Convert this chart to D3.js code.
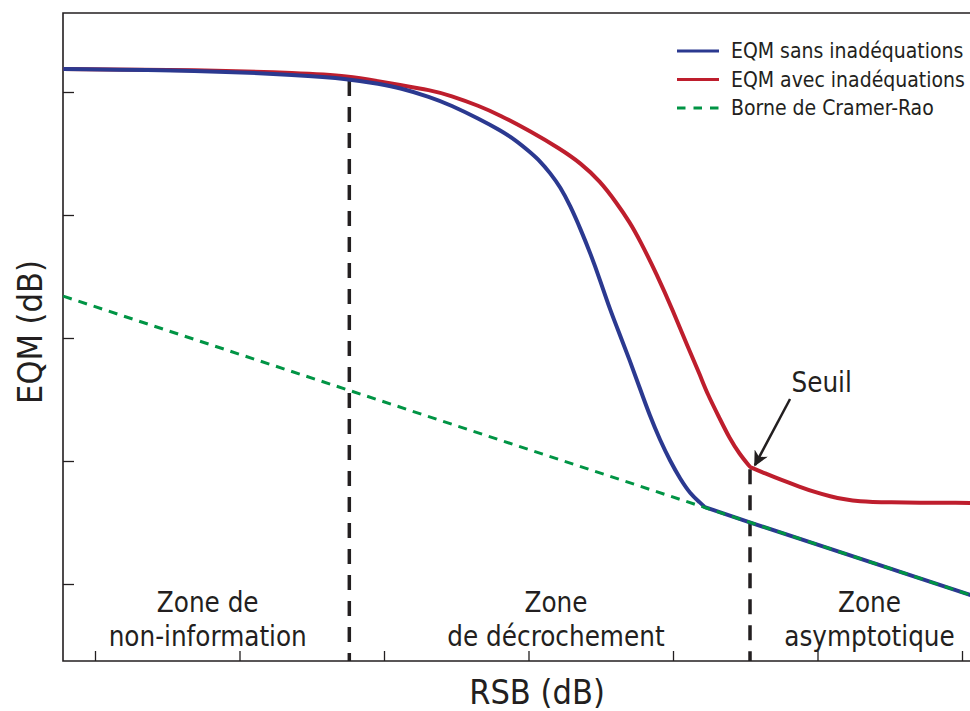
<!DOCTYPE html>
<html>
<head>
<meta charset="utf-8">
<script src="https://cdn.jsdelivr.net/npm/d3@7"></script>
<style>
  html, body { margin: 0; padding: 0; background: #fff; }
  svg { display: block; }
  text { font-family: "DejaVu Sans Condensed", "DejaVu Sans", sans-serif; font-stretch: condensed; fill: #231f20; }
</style>
</head>
<body>
<svg id="chart" width="970" height="711"></svg>
<script>
// ---- Data (RSB in dB on x, EQM in dB on y; axes carry no labels) ----
const xTicks = [-30, -20, -10, 0, 10, 20, 30];
const yTicks = [0, -10, -20, -30, -40];

// kink points (where the curves meet the bound / the threshold) are listed three times
// so that the B-spline keeps a sharp corner there
const eqmSans = [
  [-32.2, 1.87], [-22.7, 1.75], [-15.8, 1.38], [-12.4, 1.06], [-10.3, 0.65], [-8.9, 0.33],
  [-6.8, -0.41], [-5.4, -1.06], [-3.4, -2.2], [-2.0, -3.09], [-0.9, -3.9], [0.1, -4.88],
  [0.8, -5.61], [1.5, -6.59], [2.2, -7.72], [2.9, -9.27], [3.6, -11.14], [4.3, -13.17],
  [4.95, -15.28], [5.6, -17.56], [6.3, -19.67], [7.0, -21.79], [7.7, -24.07], [8.4, -26.34],
  [9.1, -28.29], [9.8, -30.0], [10.5, -31.46], [11.2, -32.68], [11.9, -33.41],
  [12.2, -33.75], [12.2, -33.75], [12.2, -33.75],
  [15.3, -34.99], [20.0, -36.8], [25.0, -38.73], [30.6, -40.9]
];
const eqmAvec = [
  [-32.2, 1.87], [-22.7, 1.79], [-15.8, 1.54], [-12.4, 1.3], [-10.3, 0.85], [-8.9, 0.57],
  [-6.8, 0.16], [-5.4, -0.28], [-3.4, -1.14], [-2.0, -1.87], [0.1, -3.17], [2.2, -4.63],
  [3.6, -5.77], [4.95, -7.24], [6.1, -9.02], [7.0, -10.57], [7.7, -12.03], [8.9, -14.88],
  [10.0, -17.8], [11.0, -20.65], [11.9, -23.09], [12.35, -24.47], [13.25, -26.59],
  [13.9, -28.13], [14.6, -29.43],
  [15.33, -30.49], [15.33, -30.49], [15.33, -30.49],
  [16.4, -31.02], [17.4, -31.5], [18.8, -32.11],
  [19.8, -32.52], [20.9, -32.89], [21.9, -33.13], [22.9, -33.29], [24.3, -33.37], [30.6, -33.41]
];
const crb = [[-32.2, -16.6], [30.6, -40.9]];

const zoneBounds = [-12.4, 15.33];           // vertical dashed separators
const boundTops = [1.05, -30.5];             // where each separator starts (on the curves)
const zoneLabels = [
  { x: -22.2, lines: ["Zone de", "non-information"] },
  { x: 1.9, lines: ["Zone", "de décrochement"] },
  { x: 23.6, lines: ["Zone", "asymptotique"] }
];
const seuil = { label: "Seuil", from: [18.1, -24.96], to: [15.67, -30.33], textAt: [18.2, -24.4] };

const legendItems = [
  { label: "EQM sans inadéquations", color: "#2b3990", dash: null },
  { label: "EQM avec inadéquations", color: "#be1e2d", dash: null },
  { label: "Borne de Cramer-Rao", color: "#009444", dash: "8.5,8" }
];

// ---- Layout ----
const svg = d3.select("#chart");
const pLeft = 63, pTop = 13, pBottom = 661, pRight = 975;
const x = d3.scaleLinear().domain([-30, 30]).range([95, 962]);
const y = d3.scaleLinear().domain([0, -40]).range([92, 584]);
const ink = "#231f20";

// frame
svg.append("path")
  .attr("d", `M${pRight},${pTop}H${pLeft}V${pBottom}H${pRight}`)
  .attr("fill", "none").attr("stroke", ink).attr("stroke-width", 1.6);

// axes with inward ticks, no labels
const xAxis = d3.axisTop(x).tickValues(xTicks).tickSize(10).tickFormat("");
const gx = svg.append("g").attr("transform", `translate(0,${pBottom})`).call(xAxis);
const yAxis = d3.axisRight(y).tickValues(yTicks).tickSize(11).tickFormat("");
const gy = svg.append("g").attr("transform", `translate(${pLeft},0)`).call(yAxis);
[gx, gy].forEach(g => {
  g.select(".domain").remove();
  g.selectAll(".tick line").attr("stroke", ink).attr("stroke-width", 1.3);
});

// zone separators
svg.selectAll(".sep").data(zoneBounds).enter().append("line")
  .attr("x1", d => x(d)).attr("x2", d => x(d))
  .attr("y1", (d, i) => y(boundTops[i]) + 2).attr("y2", pBottom)
  .attr("stroke", ink).attr("stroke-width", 3.5).attr("stroke-dasharray", "15,11");

const line = d3.line().x(d => x(d[0])).y(d => y(d[1])).curve(d3.curveBasis);

svg.append("path").datum(eqmAvec).attr("d", line)
  .attr("fill", "none").attr("stroke", "#be1e2d").attr("stroke-width", 4);
svg.append("path").datum(eqmSans).attr("d", line)
  .attr("fill", "none").attr("stroke", "#2b3990").attr("stroke-width", 4);
svg.append("path").datum(crb).attr("d", d3.line().x(d => x(d[0])).y(d => y(d[1])))
  .attr("fill", "none").attr("stroke", "#009444").attr("stroke-width", 3).attr("stroke-dasharray", "9,7");

// Zone labels
zoneLabels.forEach(z => {
  const t = svg.append("text").attr("text-anchor", "middle").attr("font-size", 27.5);
  z.lines.forEach((s, i) => {
    t.append("tspan").attr("x", x(z.x)).attr("y", i === 0 ? 612 : 646).text(s);
  });
});

// Seuil annotation with arrow
svg.append("defs").append("marker")
  .attr("id", "arr").attr("viewBox", "0 0 10 10").attr("refX", 9).attr("refY", 5)
  .attr("markerWidth", 6.5).attr("markerHeight", 6).attr("markerUnits", "strokeWidth")
  .attr("orient", "auto")
  .append("path").attr("d", "M0,0L10,5L0,10L3,5Z").attr("fill", ink);
svg.append("line")
  .attr("x1", x(seuil.from[0])).attr("y1", y(seuil.from[1]))
  .attr("x2", x(seuil.to[0])).attr("y2", y(seuil.to[1]))
  .attr("stroke", ink).attr("stroke-width", 2.5).attr("marker-end", "url(#arr)");
svg.append("text").attr("x", x(seuil.textAt[0])).attr("y", y(seuil.textAt[1]))
  .attr("font-size", 27.5).text(seuil.label);

// Legend
const lg = svg.append("g");
legendItems.forEach((d, i) => {
  const cy = 51 + i * 28.5;
  lg.append("line").attr("x1", 677).attr("x2", 719).attr("y1", cy).attr("y2", cy)
    .attr("stroke", d.color).attr("stroke-width", 3)
    .attr("stroke-dasharray", d.dash);
  lg.append("text").attr("x", 731).attr("y", cy + 7).attr("font-size", 21).text(d.label);
});

// Axis titles
svg.append("text").attr("x", 537).attr("y", 704).attr("text-anchor", "middle")
  .attr("font-size", 34).text("RSB (dB)");
svg.append("text").attr("transform", `translate(42,332) rotate(-90)`)
  .attr("text-anchor", "middle").attr("font-size", 34).text("EQM (dB)");
</script>
</body>
</html>
